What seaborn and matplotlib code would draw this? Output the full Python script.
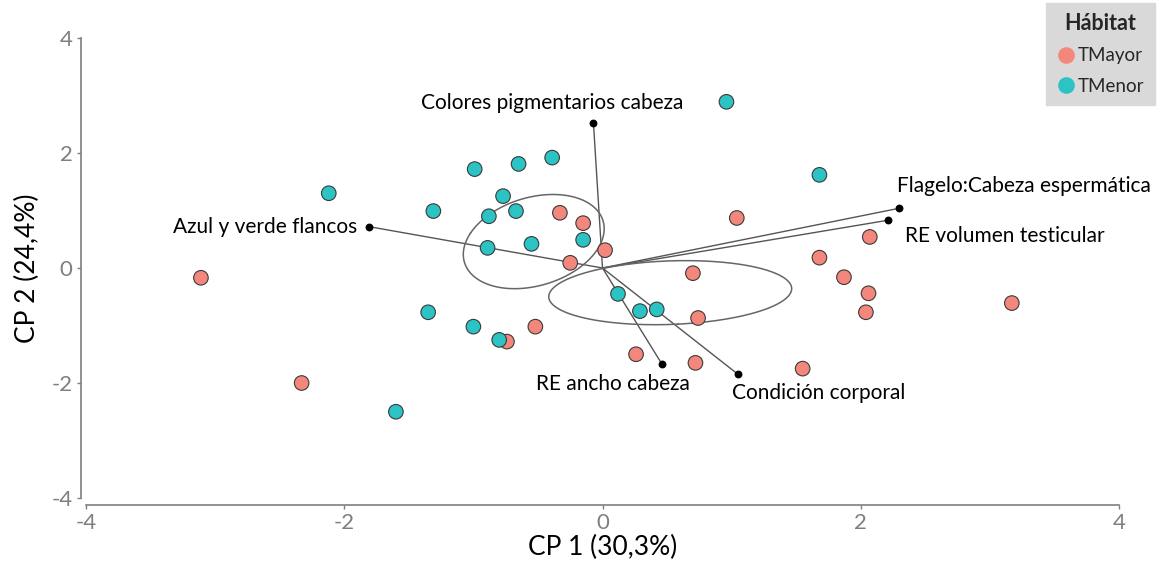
import numpy as np
import pandas as pd
import matplotlib
matplotlib.use("Agg")
import matplotlib.pyplot as plt
from matplotlib.lines import Line2D
import seaborn as sns

# ---------------- data ----------------
mayor_x = [-3.11, -2.33, -0.33, -0.15, 0.02, -0.25, 0.70, 1.04, 2.07, 1.68,
           1.87, 2.06, 2.04, 3.17, 1.55, -0.52, -0.74, 0.26, 0.72, 0.74]
mayor_y = [-0.17, -2.00, 0.96, 0.78, 0.31, 0.09, -0.09, 0.87, 0.54, 0.18,
           -0.16, -0.44, -0.77, -0.61, -1.75, -1.02, -1.28, -1.50, -1.65, -0.87]
menor_x = [-2.12, 0.96, -0.99, -0.65, -0.39, -0.77, -1.31, -0.88, -0.67, -0.89,
           -0.55, -0.15, 1.68, 0.12, 0.29, 0.42, -1.35, -1.00, -0.80, -1.60]
menor_y = [1.30, 2.89, 1.72, 1.81, 1.92, 1.25, 0.99, 0.90, 0.99, 0.35,
           0.42, 0.49, 1.62, -0.45, -0.75, -0.72, -0.77, -1.02, -1.25, -2.50]
habitats = ["TMayor", "TMenor"]

var_names = ["Azul y verde flancos", "Colores pigmentarios cabeza",
             "Flagelo:Cabeza espermática", "RE volumen testicular",
             "RE ancho cabeza", "Condición corporal"]
var_x = [-1.81, -0.07, 2.30, 2.21, 0.46, 1.05]
var_y = [0.72, 2.52, 1.04, 0.83, -1.67, -1.85]

ticks = [-4, -2, 0, 2, 4]
xlabel = "CP 1 (30,3%)"
ylabel = "CP 2 (24,4%)"
legend_title = "Hábitat"

# ---------------- styling / layout ----------------
colors = {"TMayor": "#F4877C", "TMenor": "#2CC3C5"}
label_style = [  # (ha, dx_pt, dy_pt)
    ("right", -8, 0),
    ("center", -30, 14.4),
    ("left", -2, 16),
    ("left", 12, -11),
    ("center", -35, -14.4),
    ("left", -4.3, -13.7),
]
ellipse_scale = 2.74  # Hotelling 95 % region for the group mean (n = 20)

sns.set_theme(style="white")
plt.rcParams["font.family"] = ["Lato", "DejaVu Sans"]

df = pd.DataFrame({
    "CP1": mayor_x + menor_x,
    "CP2": mayor_y + menor_y,
    "Hábitat": [habitats[0]] * len(mayor_x) + [habitats[1]] * len(menor_x),
})
dv = pd.DataFrame({"x": var_x, "y": var_y, "name": var_names})

fig = plt.figure(figsize=(11.63, 5.69), dpi=100)
ax = fig.add_axes([86 / 1163, 1 - 498 / 569, (1119 - 86) / 1163, (498 - 38) / 569])

# variable vectors
for xv, yv in zip(dv["x"], dv["y"]):
    ax.plot([0, xv], [0, yv], color="#555555", lw=1.0, zorder=2)

# confidence ellipses of group means
t = np.linspace(0, 2 * np.pi, 200)
circle = np.vstack([np.cos(t), np.sin(t)])
for h in habitats:
    sub = df[df["Hábitat"] == h][["CP1", "CP2"]].to_numpy()
    mu = sub.mean(axis=0)
    cov = np.cov(sub.T) / len(sub)
    vals, vecs = np.linalg.eigh(cov)
    pts = vecs @ np.diag(np.sqrt(vals) * ellipse_scale) @ circle
    ax.plot(pts[0] + mu[0], pts[1] + mu[1], color="#666666", lw=1.1, zorder=2)

# individuals
sns.scatterplot(data=df, x="CP1", y="CP2", hue="Hábitat", palette=colors,
                s=110, edgecolor="#3a3a3a", linewidth=0.8, legend=False,
                ax=ax, zorder=3)

# variable endpoints
sns.scatterplot(data=dv, x="x", y="y", color="black", s=32, edgecolor="black",
                linewidth=0, legend=False, ax=ax, zorder=4)
for (ha, dx, dy), xv, yv, name in zip(label_style, dv["x"], dv["y"], dv["name"]):
    ax.annotate(name, (xv, yv), xytext=(dx, dy), textcoords="offset points",
                ha=ha, va="center", fontsize=15, color="black", zorder=5)

ax.set_xlim(-4, 4)
ax.set_ylim(-4, 4)
ax.set_xticks(ticks)
ax.set_yticks(ticks)
ax.set_xticklabels([str(v) for v in ticks], fontweight="light")
ax.set_yticklabels([str(v) for v in ticks], fontweight="light")
ax.set_xlabel(xlabel, fontsize=19, color="black", labelpad=1)
ax.set_ylabel(ylabel, fontsize=19, color="black", labelpad=8)

sns.despine(ax=ax)
ax.spines["left"].set_position(("outward", 3.6))
ax.spines["bottom"].set_position(("outward", 5))
for sp in ["left", "bottom"]:
    ax.spines[sp].set_color("#7f7f7f")
    ax.spines[sp].set_linewidth(1.2)
ax.tick_params(axis="both", which="both", direction="out", length=3, width=1,
               color="#7f7f7f", labelcolor="#7f7f7f", labelsize=16, pad=3,
               bottom=True, left=True)

# legend
handles = [Line2D([0], [0], marker="o", linestyle="", markersize=12,
                  markerfacecolor=colors[h], markeredgewidth=0) for h in habitats]
leg = fig.legend(handles, habitats, title=legend_title, loc="upper right",
                 bbox_to_anchor=(1155 / 1163, 1 - 3 / 569), frameon=True,
                 fancybox=False, facecolor="#D9D9D9", edgecolor="#D9D9D9",
                 framealpha=1, fontsize=13.5, title_fontsize=15.5,
                 handletextpad=0.15, labelspacing=0.7, borderpad=0.55,
                 handlelength=1.0, borderaxespad=0)
leg.get_title().set_fontweight("bold")

fig.savefig("out.png", dpi=100)
